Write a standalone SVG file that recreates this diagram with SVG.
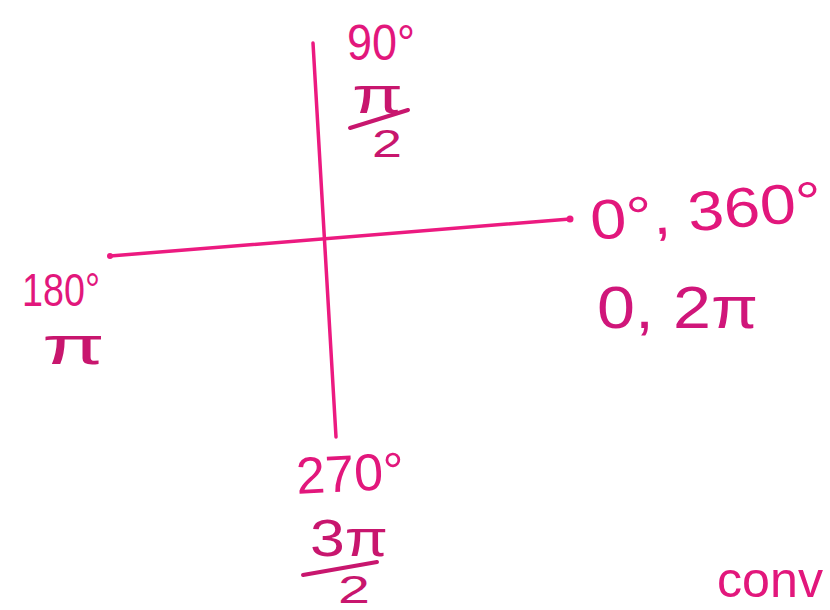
<svg xmlns="http://www.w3.org/2000/svg" width="830" height="610" viewBox="0 0 830 610">
<style>
.lbl{font-family:"Liberation Sans","DejaVu Sans",sans-serif;fill:#e2177c;}
.dk{fill:#c8166e;}
.axis{stroke:#ec1a80;stroke-width:3.5;stroke-linecap:round;fill:none;}
.bar{stroke:#c8166e;stroke-width:4;stroke-linecap:round;fill:none;}
.dot{fill:#ec1a80;}
</style>
<rect width="830" height="610" fill="#ffffff"/>
<g id="connectors">
<path class="axis" d="M313,43 L336,437"/>
<path class="axis" d="M110,256 L570,219"/>
<circle class="dot" cx="110" cy="256" r="3"/>
<circle class="dot" cx="570" cy="219" r="3.5"/>
</g>
<g id="node-90">
<text class="lbl" x="347" y="60" font-size="50" textLength="68" lengthAdjust="spacingAndGlyphs">90°</text>
<text class="lbl dk" x="352" y="113" font-size="52" textLength="51" lengthAdjust="spacingAndGlyphs">π</text>
<path class="bar" d="M350,128 L408,110"/>
<text class="lbl dk" x="372" y="157" font-size="38" textLength="30" lengthAdjust="spacingAndGlyphs">2</text>
</g>
<g id="node-180">
<text class="lbl" x="22" y="306" font-size="46" textLength="78" lengthAdjust="spacingAndGlyphs">180°</text>
<text class="lbl dk" x="42" y="364" font-size="54" textLength="63" lengthAdjust="spacingAndGlyphs">π</text>
</g>
<g id="node-0">
<text class="lbl" x="592" y="240" font-size="56" textLength="232" lengthAdjust="spacingAndGlyphs" transform="rotate(-5 592 240)">0°, 360°</text>
<text class="lbl" x="597" y="328" font-size="60" textLength="161" lengthAdjust="spacingAndGlyphs" style="fill:#d0167a">0, 2π</text>
</g>
<g id="node-270">
<text class="lbl" x="297" y="494" font-size="52" textLength="108" lengthAdjust="spacingAndGlyphs" transform="rotate(-3 297 494)">270°</text>
<text class="lbl dk" x="310" y="556" font-size="52" textLength="78" lengthAdjust="spacingAndGlyphs">3π</text>
<path class="bar" d="M303,575 L377,562"/>
<text class="lbl dk" x="338" y="603" font-size="38" textLength="32" lengthAdjust="spacingAndGlyphs">2</text>
</g>
<g id="node-conv">
<text class="lbl" x="717" y="597" font-size="50" textLength="106" lengthAdjust="spacingAndGlyphs">conv</text>
</g>
</svg>
